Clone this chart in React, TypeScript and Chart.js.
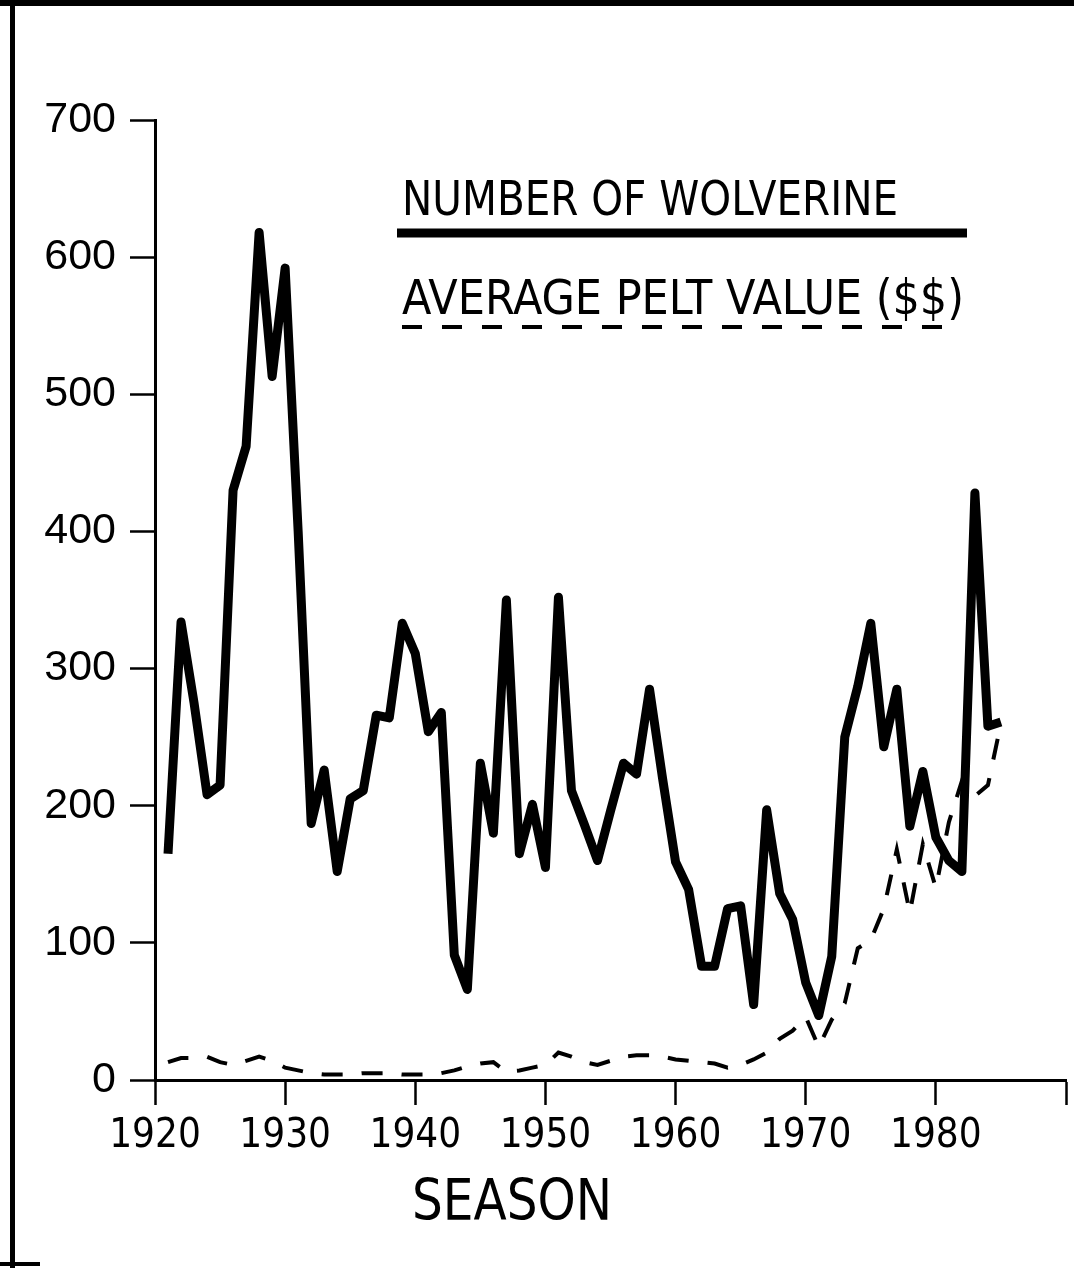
import React, { useEffect, useRef } from "react";
import { Chart, registerables } from "chart.js";

Chart.register(...registerables);

const seasons = [
  1921, 1922, 1923, 1924, 1925, 1926, 1927, 1928, 1929, 1930,
  1931, 1932, 1933, 1934, 1935, 1936, 1937, 1938, 1939, 1940,
  1941, 1942, 1943, 1944, 1945, 1946, 1947, 1948, 1949, 1950,
  1951, 1952, 1953, 1954, 1955, 1956, 1957, 1958, 1959, 1960,
  1961, 1962, 1963, 1964, 1965, 1966, 1967, 1968, 1969, 1970,
  1971, 1972, 1973, 1974, 1975, 1976, 1977, 1978, 1979, 1980,
  1981, 1982, 1983, 1984, 1985,
];

const wolverineCounts = [
  165, 334, 275, 208, 215, 430, 462, 618, 513, 592,
  400, 187, 226, 152, 205, 211, 266, 264, 333, 311,
  254, 268, 91, 66, 231, 180, 350, 165, 201, 155,
  352, 211, 186, 160, 196, 231, 223, 285, 220, 159,
  139, 83, 83, 125, 127, 55, 197, 136, 117, 71,
  47, 90, 250, 287, 333, 243, 285, 185, 225, 177,
  160, 152, 428, 258, 261,
];

const peltValues = [
  13, 16, 16, 17, 13, 11, 14, 17, 14, 9,
  7, 5, 4, 4, 4, 5, 5, 5, 4, 4,
  4, 5, 7, 10, 12, 13, 6, 7, 9, 11,
  20, 17, 13, 11, 14, 17, 18, 18, 17, 15,
  14, 13, 12, 9, 11, 15, 20, 30, 36, 46,
  24, 44, 56, 96, 102, 125, 168, 122, 172, 140,
  188, 218, 207, 215, 260,
];

const xTickValues = [1920, 1930, 1940, 1950, 1960, 1970, 1980, 1990];
const xTickLabels = ["1920", "1930", "1940", "1950", "1960", "1970", "1980", ""];
const yTickValues = [0, 100, 200, 300, 400, 500, 600, 700];

const seriesLabels = ["NUMBER OF WOLVERINE", "AVERAGE PELT VALUE ($$)"];
const axisTitle = "SEASON";

const NARROW = '"Liberation Sans Narrow", "DejaVu Sans Condensed", "Liberation Sans", sans-serif';
const REGULAR = '"Liberation Sans", Arial, sans-serif';

const decorPlugin = {
  id: "decor",
  beforeDraw(chart: any) {
    const ctx = chart.ctx;
    ctx.save();
    ctx.fillStyle = "#ffffff";
    ctx.fillRect(0, 0, chart.width, chart.height);
    ctx.restore();
  },
  afterDraw(chart: any) {
    const ctx = chart.ctx as CanvasRenderingContext2D;
    ctx.save();
    ctx.fillStyle = "#000";
    // scanned frame
    ctx.fillRect(0, 0, chart.width, 6);
    ctx.fillRect(10, 0, 5, chart.height);
    ctx.fillRect(0, 1262, 40, 4);

    // legend
    ctx.textAlign = "left";
    ctx.textBaseline = "alphabetic";
    ctx.font = `48px ${NARROW}`;
    ctx.fillText(seriesLabels[0], 402, 215, 496);
    ctx.strokeStyle = "#000";
    ctx.lineWidth = 9;
    ctx.beginPath();
    ctx.moveTo(397, 233);
    ctx.lineTo(967, 233);
    ctx.stroke();

    ctx.fillText(seriesLabels[1], 402, 314, 562);
    ctx.lineWidth = 4;
    ctx.setLineDash([20, 20]);
    ctx.beginPath();
    ctx.moveTo(402, 327);
    ctx.lineTo(962, 327);
    ctx.stroke();
    ctx.setLineDash([]);

    // axis title
    ctx.textAlign = "center";
    ctx.font = `57px ${NARROW}`;
    ctx.fillText(axisTitle, 512, 1220, 200);
    ctx.restore();
  },
};

export default function App() {
  const canvasRef = useRef<HTMLCanvasElement | null>(null);

  useEffect(() => {
    document.body.style.margin = "0";
    const canvas = canvasRef.current;
    if (!canvas) return;
    const chart = new Chart(canvas, {
      type: "line",
      data: {
        datasets: [
          {
            label: seriesLabels[0],
            data: seasons.map((s, i) => ({ x: s, y: wolverineCounts[i] })),
            borderColor: "#000",
            borderWidth: 9,
            borderJoinStyle: "round",
            borderCapStyle: "butt",
            pointRadius: 0,
            tension: 0,
            fill: false,
          },
          {
            label: seriesLabels[1],
            data: seasons.map((s, i) => ({ x: s, y: peltValues[i] })),
            borderColor: "#000",
            borderWidth: 4,
            borderDash: [21, 19],
            pointRadius: 0,
            tension: 0,
            fill: false,
          },
        ],
      },
      options: {
        responsive: false,
        animation: false,
        events: [],
        layout: { padding: { left: 0, right: 7, top: 120, bottom: 0 } },
        plugins: {
          legend: { display: false },
          tooltip: { enabled: false },
          title: { display: false },
        },
        scales: {
          x: {
            type: "linear",
            min: 1920,
            max: 1990,
            afterFit: (s: any) => {
              s.height = 188;
            },
            afterBuildTicks: (s: any) => {
              s.ticks = xTickValues.map((v) => ({ value: v }));
            },
            ticks: {
              color: "#000",
              font: { family: NARROW, size: 40 },
              padding: 8,
              maxRotation: 0,
              autoSkip: false,
              callback: (v: any) => xTickLabels[xTickValues.indexOf(Number(v))] ?? "",
            },
            grid: {
              drawOnChartArea: false,
              drawTicks: true,
              tickLength: 25,
              tickWidth: 2.5,
              tickColor: "#000",
              color: "#000",
            },
            border: { display: true, color: "#000", width: 3 },
          },
          y: {
            type: "linear",
            min: 0,
            max: 700,
            afterFit: (s: any) => {
              s.width = 155;
            },
            afterBuildTicks: (s: any) => {
              s.ticks = yTickValues.map((v) => ({ value: v }));
            },
            ticks: {
              color: "#000",
              font: { family: REGULAR, size: 43 },
              padding: 14,
              autoSkip: false,
              callback: (v: any) => String(v),
            },
            grid: {
              drawOnChartArea: false,
              drawTicks: true,
              tickLength: 25,
              tickWidth: 2.5,
              tickColor: "#000",
              color: "#000",
            },
            border: { display: true, color: "#000", width: 3 },
          },
        },
      },
      plugins: [decorPlugin],
    } as any);
    return () => chart.destroy();
  }, []);

  return (
    <div style={{ width: 1074, height: 1268, background: "#fff" }}>
      <canvas ref={canvasRef} width={1074} height={1268} style={{ display: "block" }} />
    </div>
  );
}
